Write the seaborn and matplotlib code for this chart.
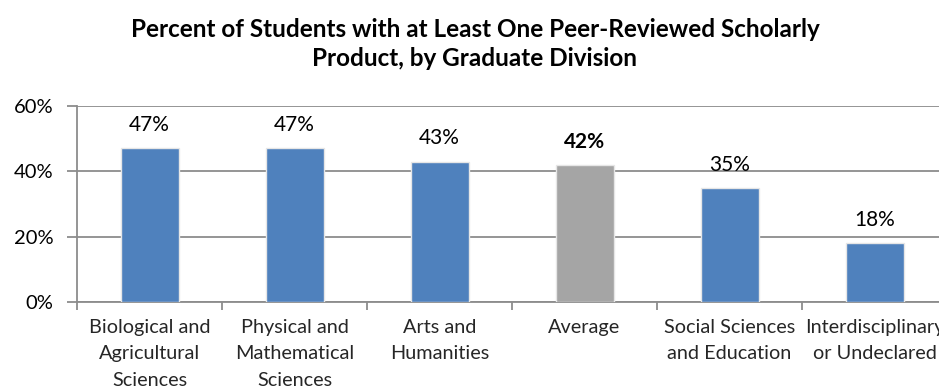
import numpy as np
import pandas as pd
import matplotlib
matplotlib.use("Agg")
import matplotlib.pyplot as plt
import seaborn as sns
from matplotlib.ticker import FixedLocator

# Share of students with at least one peer-reviewed scholarly product
categories = [
    "Biological and\nAgricultural\nSciences",
    "Physical and\nMathematical\nSciences",
    "Arts and\nHumanities",
    "Average",
    "Social Sciences\nand Education",
    "Interdisciplinary\nor Undeclared",
]
percent_values = [47, 47, 43, 42, 35, 18]
bar_kind = ["division", "division", "division", "average", "division", "division"]
y_ticks = [0, 20, 40, 60]

df = pd.DataFrame({"division": categories, "percent": percent_values, "kind": bar_kind})

sns.set_theme(style="white")
plt.rcParams["font.family"] = ["Lato", "DejaVu Sans"]

fig = plt.figure(figsize=(9.39, 3.91), dpi=100)
# axes extends past the right edge of the canvas
ax = fig.add_axes([77 / 939, 1 - 302 / 391, 870 / 939, 196 / 391])

palette = {"division": "#4F81BD", "average": "#A5A5A5"}
sns.barplot(data=df, x="division", y="percent", hue="kind", palette=palette,
            saturation=1, dodge=False, width=0.40, edgecolor="#e6e6e6",
            linewidth=1.0, legend=False, ax=ax, zorder=3)

ax.set_xlim(-0.5, len(categories) - 0.5)
ax.set_ylim(0, 60)
ax.yaxis.set_major_locator(FixedLocator(y_ticks))
ax.set_yticklabels([f"{t}%" for t in y_ticks], fontsize=14.5, color="black")
ax.grid(axis="y", color="#8c8c8c", linewidth=1.3, zorder=0)
ax.grid(axis="x", visible=False)

for spine in ["top", "right"]:
    ax.spines[spine].set_visible(False)
for spine in ["left", "bottom"]:
    ax.spines[spine].set_color("#8c8c8c")
    ax.spines[spine].set_linewidth(1.3)

ax.tick_params(axis="y", length=7, width=1.3, color="#8c8c8c", pad=10, left=True)
ax.tick_params(axis="x", which="major", length=0, pad=12)
ax.xaxis.set_minor_locator(FixedLocator(np.arange(-0.5, len(categories), 1.0)))
ax.tick_params(axis="x", which="minor", length=6, width=1.3, color="#8c8c8c", bottom=True)
ax.set_xticks(range(len(categories)))
ax.set_xticklabels(categories, fontsize=14.3, linespacing=1.7, va="top")
ax.set_xlabel("")
ax.set_ylabel("")

for i, v in enumerate(percent_values):
    weight = "bold" if bar_kind[i] == "average" else "normal"
    ax.text(i, v + 4, f"{v}%", ha="center", va="bottom", fontsize=15,
            fontweight=weight, color="black")

fig.text(475 / 939, 1 - 44 / 391,
         "Percent of Students with at Least One Peer-Reviewed Scholarly\nProduct, by Graduate Division",
         ha="center", va="center", fontsize=17.5, fontweight="bold",
         linespacing=1.3, color="black")

fig.savefig("out.png", dpi=100)
